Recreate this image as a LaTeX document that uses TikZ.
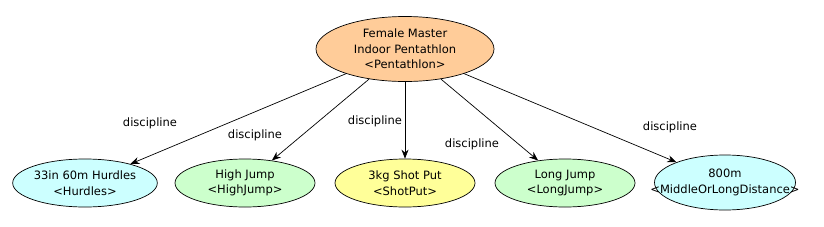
\documentclass[tikz,border=0pt]{standalone}
\usepackage{fontspec}
\setmainfont{DejaVu Sans}
\usepackage{tikz}
\usetikzlibrary{shapes.geometric, arrows.meta}
\usepackage{xcolor}
\definecolor{topFill}{RGB}{255, 204, 153}
\definecolor{cyanFill}{RGB}{204, 255, 255}
\definecolor{greenFill}{RGB}{204, 255, 204}
\definecolor{yellowFill}{RGB}{255, 255, 153}

\begin{document}
\begin{tikzpicture}[>={Stealth[length=9pt, width=7pt]}, x=1pt, y=1pt, line width=0.7pt,
    font=\fontsize{11.5}{15.5}\selectfont,
    evt/.style={ellipse, draw, inner sep=0pt, align=center,
      minimum width=140pt, minimum height=48pt},
    rel/.style={inner sep=1pt}]
  \useasboundingbox (0,0) rectangle (824,226);

  % Event and its disciplines
  \node[evt, fill=topFill, minimum width=178pt, minimum height=65pt] (pent) at (405,177)
    {Female Master\\Indoor Pentathlon\\<Pentathlon>};
  \node[evt, fill=cyanFill] (hurd) at (85,43) {33in 60m Hurdles\\<Hurdles>};
  \node[evt, fill=greenFill] (high) at (245,43) {High Jump\\<HighJump>};
  \node[evt, fill=yellowFill] (shot) at (405,43) {3kg Shot Put\\<ShotPut>};
  \node[evt, fill=greenFill] (long) at (565,43) {Long Jump\\<LongJump>};
  \node[evt, fill=cyanFill, minimum width=141pt, minimum height=55pt] (run) at (725,43.5)
    {800m\\\makebox[0pt]{<MiddleOrLongDistance>}};

  \draw[->] (pent) -- (hurd);
  \draw[->] (pent) -- (high);
  \draw[->] (pent) -- (shot);
  \draw[->] (pent) -- (long);
  \draw[->] (pent) -- (run);

  \node[rel] (lhurd) at (150,103) {discipline};
  \node[rel] (lhigh) at (255,91) {discipline};
  \node[rel] (lshot) at (375,105) {discipline};
  \node[rel] (llong) at (472,82) {discipline};
  \node[rel] (lrun) at (670,99) {discipline};
\end{tikzpicture}
\end{document}
